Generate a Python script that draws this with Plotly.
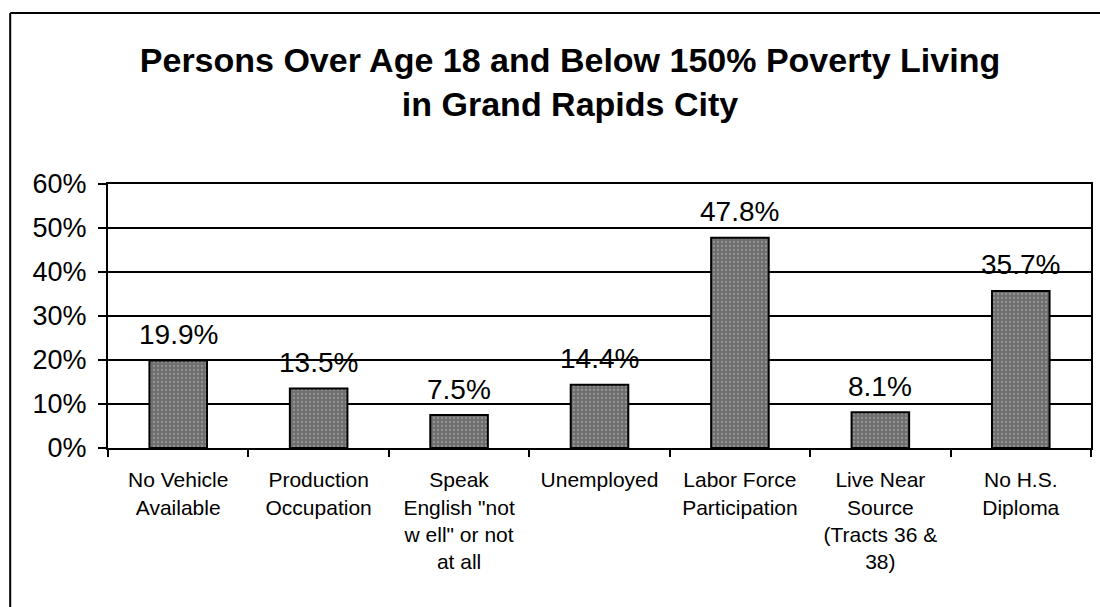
import plotly.graph_objects as go

categories = [
    "No Vehicle<br>Available",
    "Production<br>Occupation",
    "Speak<br>English \"not<br>w ell\" or not<br>at all",
    "Unemployed",
    "Labor Force<br>Participation",
    "Live Near<br>Source<br>(Tracts 36 &<br>38)",
    "No H.S.<br>Diploma",
]
values = [19.9, 13.5, 7.5, 14.4, 47.8, 8.1, 35.7]
y_ticks = [0, 10, 20, 30, 40, 50, 60]
y_tick_labels = ["0%", "10%", "20%", "30%", "40%", "50%", "60%"]

FONT = "Liberation Sans, Arial, sans-serif"

W, H = 1100, 607
PL, PR, PT, PB = 108, 1093, 184, 448
PW, PH = PR - PL, PB - PT

fig = go.Figure()
fig.add_trace(go.Bar(
    x=categories,
    y=values,
    width=0.41,
    marker=dict(
        color="#7c7c7c",
        line=dict(color="black", width=2),
        pattern=dict(shape=".", fgcolor="#b8b8b8", bgcolor="#6e6e6e", size=4, solidity=0.25),
    ),
    showlegend=False,
    hoverinfo="skip",
))

for c, v in zip(categories, values):
    fig.add_annotation(
        x=c, y=v, xref="x", yref="y",
        text=f"{v:.1f}%", showarrow=False,
        yshift=26, yanchor="middle",
        font=dict(family=FONT, size=28, color="black"),
    )

fx0 = (10 - PL) / PW
fy1 = (PB - 13) / PH

fig.update_layout(
    width=W, height=H,
    margin=dict(l=PL, r=W - PR, t=PT, b=H - PB, pad=0),
    paper_bgcolor="white",
    plot_bgcolor="white",
    title=dict(
        text="<b>Persons Over Age 18 and Below 150% Poverty Living<br>in Grand Rapids City</b>",
        x=570 / W, xanchor="center", xref="container",
        y=1 - 72 / H, yanchor="top", yref="container",
        font=dict(family=FONT, size=34, color="black"),
    ),
    xaxis=dict(
        showline=True, linecolor="black", linewidth=2, mirror=True,
        ticks="outside", ticklen=7, tickwidth=2, tickcolor="black",
        tickson="boundaries",
        ticklabelstandoff=12,
        tickfont=dict(family=FONT, size=21, color="black"),
        showgrid=False,
    ),
    yaxis=dict(
        range=[0, 60],
        tickvals=y_ticks, ticktext=y_tick_labels,
        showline=True, linecolor="black", linewidth=2, mirror=True,
        ticks="outside", ticklen=8, tickwidth=2, tickcolor="black",
        ticklabelstandoff=6,
        showgrid=True, gridcolor="black", gridwidth=2,
        tickfont=dict(family=FONT, size=27, color="black"),
        zeroline=False,
    ),
    shapes=[
        dict(type="line", xref="paper", yref="paper",
             x0=fx0, x1=1.2, y0=fy1, y1=fy1,
             line=dict(color="black", width=2), layer="below"),
        dict(type="line", xref="paper", yref="paper",
             x0=fx0, x1=fx0, y0=-1.0, y1=fy1,
             line=dict(color="black", width=2), layer="below"),
    ],
)

fig.write_html(
    "out.html",
    config={"displayModeBar": False},
    post_script="document.body.style.margin='0';document.body.style.overflow='hidden';",
)
